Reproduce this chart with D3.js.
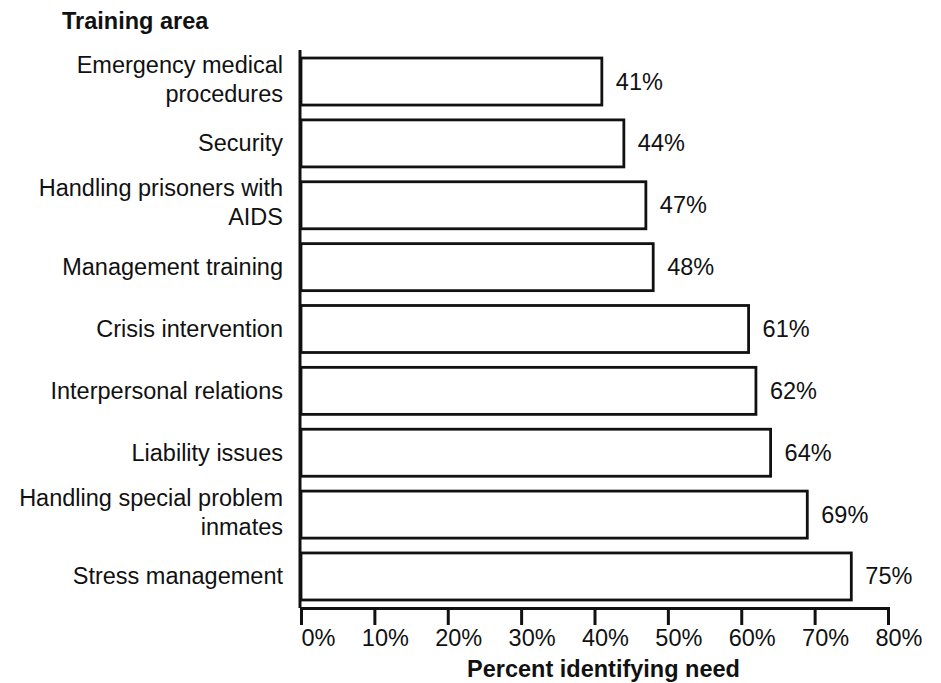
<!DOCTYPE html>
<html>
<head>
<meta charset="utf-8">
<script src="https://cdn.jsdelivr.net/npm/d3@7"></script>
<style>
  body { margin: 0; background: #fff; }
  svg text { font-family: "Liberation Sans", Arial, Helvetica, sans-serif; fill: #111; }
</style>
</head>
<body>
<div class="chart"></div>
<script>
// training areas, top to bottom ("\n" marks the line break in the label)
let categories = [
  "Emergency medical\nprocedures",
  "Security",
  "Handling prisoners with\nAIDS",
  "Management training",
  "Crisis intervention",
  "Interpersonal relations",
  "Liability issues",
  "Handling special problem\ninmates",
  "Stress management"
];
let values = [41, 44, 47, 48, 61, 62, 64, 69, 75];
let xTicks = [0, 10, 20, 30, 40, 50, 60, 70, 80];

let width = 941, height = 683;
let margin = {top: 50.6, left: 301, right: 53, bottom: 75.6};
let ink = "#111";
let fontSize = "23.5px";

let svg = d3.select(".chart").append("svg")
    .attr("width", width)
    .attr("height", height);

let x = d3.scaleLinear()
    .domain([0, 80])
    .range([margin.left, width - margin.right]);

let y = d3.scaleBand()
    .domain(categories)
    .range([margin.top, height - margin.bottom])
    .paddingInner(0.24)
    .paddingOuter(0.12);

let axisY = 608;

// bars
svg.selectAll(".bar")
  .data(values)
  .enter().append("rect")
    .attr("class", "bar")
    .attr("x", x(0))
    .attr("y", (d, i) => y(categories[i]))
    .attr("width", d => x(d) - x(0))
    .attr("height", y.bandwidth())
    .attr("fill", "#fff")
    .attr("stroke", ink)
    .attr("stroke-width", 2.8);

// value labels
svg.selectAll(".val")
  .data(values)
  .enter().append("text")
    .attr("class", "val")
    .attr("x", d => x(d) + 14)
    .attr("y", (d, i) => y(categories[i]) + y.bandwidth() / 2 + 8)
    .style("font-size", fontSize)
    .text(d => d + "%");

// x axis
let xAxis = d3.axisBottom(x)
    .tickValues(xTicks)
    .tickSize(17)
    .tickSizeOuter(17)
    .tickPadding(4)
    .tickFormat(d => d + "%");

let gx = svg.append("g")
    .attr("transform", "translate(0," + axisY + ")")
    .call(xAxis);

gx.selectAll("path, line")
    .attr("stroke", ink)
    .attr("stroke-width", 3);
gx.selectAll("text")
    .attr("text-anchor", "end")
    .attr("x", 34)
    .style("font-size", fontSize)
    .style("font-family", "\"Liberation Sans\", Arial, sans-serif")
    .attr("fill", ink);

// y axis (line + labels)
let yAxis = d3.axisLeft(y)
    .tickSize(0)
    .tickSizeOuter(0)
    .tickPadding(17);

let gy = svg.append("g")
    .attr("transform", "translate(" + (x(0) - 1) + ",0)")
    .call(yAxis);

gy.select(".domain")
    .attr("stroke", ink)
    .attr("stroke-width", 3)
    .attr("d", "M0," + (margin.top - 0.6) + "V" + axisY);

gy.selectAll("text").each(function(d) {
  let t = d3.select(this);
  let lines = d.split("\n");
  t.text(null)
    .attr("dy", null)
    .attr("fill", ink)
    .style("font-size", fontSize)
    .style("font-family", "\"Liberation Sans\", Arial, sans-serif");
  lines.forEach((ln, k) => {
    let off = lines.length == 1 ? 8 : (k == 0 ? -9 : 20);
    t.append("tspan")
      .attr("x", -17)
      .attr("y", off)
      .text(ln);
  });
});

// titles
svg.append("text")
    .attr("x", 62)
    .attr("y", 29)
    .style("font-size", fontSize)
    .style("font-weight", "bold")
    .text("Training area");

svg.append("text")
    .attr("x", (x(0) + x(80)) / 2 + 9)
    .attr("y", 677)
    .attr("text-anchor", "middle")
    .style("font-size", fontSize)
    .style("font-weight", "bold")
    .text("Percent identifying need");
</script>
</body>
</html>
